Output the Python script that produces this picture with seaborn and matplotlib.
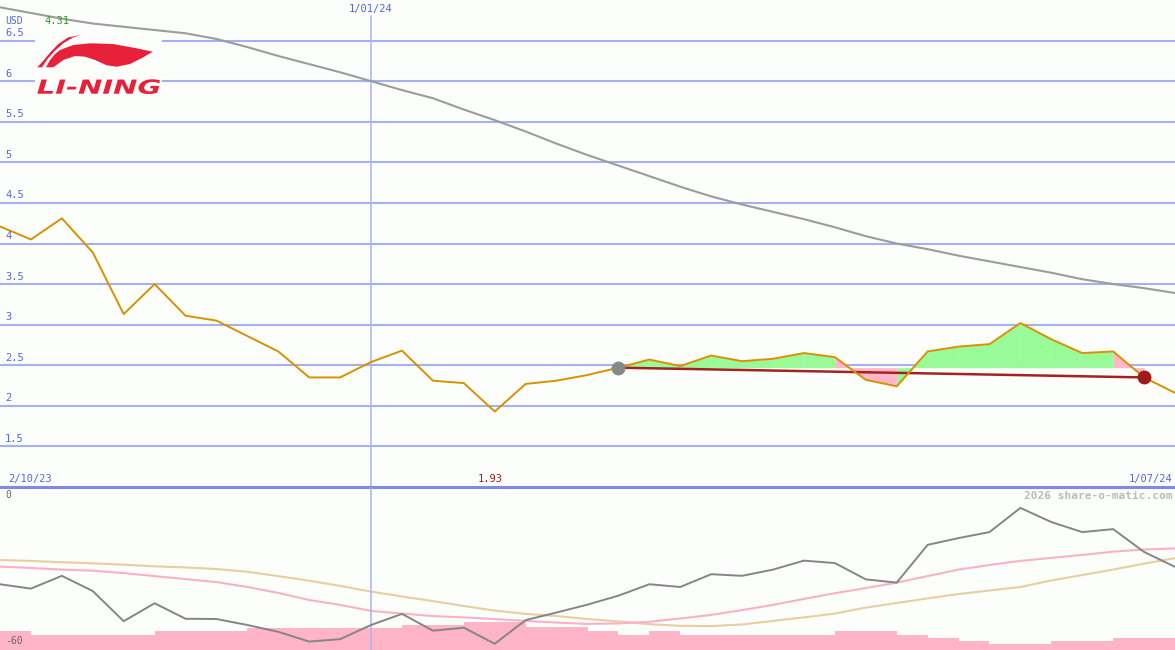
import numpy as np
import matplotlib
matplotlib.use("Agg")
import matplotlib.pyplot as plt
import matplotlib.transforms as mtransforms
from matplotlib.patches import Polygon, Rectangle, PathPatch
from matplotlib.textpath import TextPath
from matplotlib.font_manager import FontProperties
import seaborn as sns

W, H = 1175, 650

# weekly closes, 2/10/23 .. 1/07/24
price = [4.21, 4.05, 4.31, 3.89, 3.13, 3.50, 3.11, 3.05, 2.86, 2.67,
         2.35, 2.35, 2.54, 2.68, 2.31, 2.28, 1.93, 2.27, 2.31, 2.38,
         2.47, 2.57, 2.49, 2.62, 2.55, 2.58, 2.65, 2.60, 2.32, 2.24,
         2.67, 2.73, 2.76, 3.02, 2.82, 2.65, 2.67, 2.35, 2.16]
# long moving average
ma_long = [6.91, 6.84, 6.77, 6.71, 6.67, 6.63, 6.59, 6.52, 6.42, 6.31,
           6.21, 6.11, 6.00, 5.89, 5.79, 5.65, 5.52, 5.38, 5.23, 5.09,
           4.96, 4.83, 4.70, 4.58, 4.48, 4.39, 4.30, 4.20, 4.09, 4.00,
           3.93, 3.85, 3.78, 3.71, 3.64, 3.56, 3.50, 3.45, 3.39]
# lower panel
osc = [-35.8, -37.4, -32.7, -38.3, -49.4, -42.8, -48.5, -48.6, -50.8, -53.3,
       -56.9, -56.0, -50.8, -46.7, -52.9, -51.8, -57.7, -49.0, -46.2, -43.3,
       -40.0, -35.8, -36.8, -32.1, -32.7, -30.4, -27.1, -28.0, -34.0, -35.2,
       -21.3, -18.8, -16.6, -7.7, -12.9, -16.6, -15.5, -23.9, -29.4]
osc_fast = [-29.3, -29.8, -30.4, -30.8, -31.7, -32.8, -33.9, -35.0, -36.8, -39.0,
            -41.6, -43.4, -45.6, -46.6, -47.5, -48.0, -48.6, -49.3, -49.9, -50.4,
            -50.2, -49.6, -48.4, -47.1, -45.3, -43.4, -41.2, -39.1, -37.2, -35.2,
            -32.8, -30.4, -28.7, -27.2, -26.1, -25.0, -23.8, -23.0, -22.6]
osc_slow = [-26.9, -27.2, -27.7, -28.1, -28.6, -29.2, -29.6, -30.2, -31.2, -32.8,
            -34.5, -36.4, -38.5, -40.3, -42.0, -43.8, -45.5, -46.7, -47.5, -48.6,
            -49.5, -50.5, -51.1, -51.2, -50.6, -49.3, -48.0, -46.6, -44.4, -42.7,
            -41.0, -39.4, -38.1, -36.8, -34.4, -32.4, -30.4, -28.2, -26.2]
bars = [-52.9, -54.5, -54.5, -54.5, -54.5, -52.9, -52.9, -52.9, -51.8, -51.8,
        -51.8, -51.8, -51.8, -50.8, -50.8, -49.7, -49.7, -51.6, -51.6, -52.9,
        -54.5, -52.9, -54.5, -54.5, -54.5, -54.5, -54.5, -52.9, -52.9, -54.5,
        -55.6, -56.6, -57.8, -57.8, -56.6, -56.6, -55.6, -55.6]

yticks = [1.5, 2, 2.5, 3, 3.5, 4, 4.5, 5, 5.5, 6, 6.5]
ytick_labels = ["1.5", "2", "2.5", "3", "3.5", "4", "4.5", "5", "5.5", "6", "6.5"]
date_start, date_mid, date_end = "2/10/23", "1/01/24", "1/07/24"
mid_idx = 12
trend_start, trend_end = 20, 37

idx = np.arange(len(price))

sns.set_style("white")
plt.rcParams['font.family'] = ['DejaVu Sans Mono', 'DejaVu Sans']

BG = '#FCFEFC'
GRID = '#A4B0F0'
BLUE_TXT = '#5566E4'
fig = plt.figure(figsize=(W / 100, H / 100), dpi=100, facecolor=BG)

def px(x, y):
    return x / W, 1 - y / H

ax = fig.add_axes([0, 163 / H, 1, 487 / H])
ax.set_xlim(0, len(price) - 1)
ax.set_ylim(1, 7)
ax.set_axis_off()

axb = fig.add_axes([0, 0, 1, 163 / H])
axb.set_xlim(0, len(price) - 1)
axb.set_ylim(-60, 0)
axb.set_axis_off()

#grid + labels
lab_tr = mtransforms.blended_transform_factory(ax.transAxes, ax.transData)
for v, lab in zip(yticks, ytick_labels):
    ax.axhline(v, color=GRID, lw=1.5, zorder=1)
    ax.text(5 / W, v + 0.03, lab, transform=lab_tr, ha='left', va='bottom',
            fontsize=7.5, color=BLUE_TXT, zorder=5)
ax.axvline(mid_idx, ymin=0, ymax=(487 - 16) / 487, color='#A8B4F2', lw=1.1, zorder=1)
axb.axvline(mid_idx, color='#A8B4F2', lw=1.1, zorder=3)
ax.axhline(1, color='#7C8AE8', lw=2.2, zorder=6, clip_on=False)

#lines
sns.lineplot(x=idx, y=ma_long, ax=ax, color='#9C9C9C', linewidth=1.5, zorder=3)

base = price[trend_start]
for i in range(trend_start, trend_end):
    c = '#98FB98' if price[i + 1] >= base else '#FFB6C8'
    ax.fill_between([i, i + 1], [price[i], price[i + 1]], base, color=c, lw=0, zorder=2)

sns.lineplot(x=[trend_start, trend_end], y=[price[trend_start], price[trend_end]], ax=ax,
             color='#A52222', linewidth=1.8, zorder=3)
sns.lineplot(x=idx, y=price, ax=ax, color='#DA9100', linewidth=1.4, zorder=4)
ax.plot([trend_start], [price[trend_start]], 'o', ms=9, color='#888888', zorder=5)
ax.plot([trend_end], [price[trend_end]], 'o', ms=9, color='#A01C1C', zorder=5)

#hi / lo labels
imax, imin = int(np.argmax(price)), int(np.argmin(price))
off = mtransforms.offset_copy(ax.transData, fig=fig, x=-5, y=0, units='dots')
hx = mtransforms.blended_transform_factory(off, fig.transFigure)
ax.text(imax, 1 - 21 / H, f"{price[imax]:.2f}", transform=hx, ha='center', va='center',
        fontsize=7.5, color='#22A022')
ax.text(imin, 1 - 479 / H, f"{price[imin]:.2f}", transform=hx, ha='center', va='center',
        fontsize=7.5, color='#A01C1C')

fig.text(*px(5, 21), "USD", ha='left', va='center', fontsize=7, color=BLUE_TXT)
mx = mtransforms.blended_transform_factory(ax.transData, fig.transFigure)
ax.text(mid_idx, 1 - 9 / H, date_mid, transform=mx, ha='center', va='center',
        fontsize=7.5, color=BLUE_TXT)
fig.text(*px(8, 479), date_start, ha='left', va='center', fontsize=7.5, color=BLUE_TXT)
fig.text(*px(1172, 479), date_end, ha='right', va='center', fontsize=7.5, color=BLUE_TXT)

#logo
ax.add_patch(Rectangle(px(35, 97), 127 / W, 64 / H, transform=fig.transFigure,
                       facecolor=BG, edgecolor='none', zorder=2))
RED = '#E8203A'
stroke = [(37.3, 67.3), (43.3, 60.7), (50, 52.7), (58.3, 44), (68.3, 37.3), (81.7, 35),
          (73.3, 37.3), (63.3, 43.3), (55, 50.7), (47.3, 59.3), (42, 67.3)]
wing = [(46, 67.3), (50, 60), (55, 54), (60, 50), (73.3, 45), (90, 43.3), (113, 44),
        (136.7, 48.3), (152.7, 51.7), (143.3, 57.3), (130, 64), (116.7, 66.7),
        (106.7, 65.3), (95, 60), (85, 56.7), (75, 56), (63.3, 60), (53.3, 67.3)]
for shape in (stroke, wing):
    ax.add_patch(Polygon([px(x, y) for x, y in shape], closed=True, transform=fig.transFigure,
                         facecolor=RED, edgecolor='none', zorder=3))
tp = TextPath((0, 0), "LI-NING", size=20,
              prop=FontProperties(family='DejaVu Sans', weight='bold', style='italic'))
bb = tp.get_extents()
tx0, tx1, ty0, ty1 = 37.3, 160, 79.3, 94
tr = (mtransforms.Affine2D().translate(-bb.x0, -bb.y0)
      .scale((tx1 - tx0) / bb.width, (ty1 - ty0) / bb.height)
      .translate(tx0, H - ty1))
fig.add_artist(PathPatch(tp, transform=tr, facecolor=RED, edgecolor='none', zorder=4))

#lower panel
axb.bar(idx[:-1], [b + 60 for b in bars], bottom=-60, width=1, align='edge',
        color='#FFB4C8', linewidth=0, zorder=1)
sns.lineplot(x=idx, y=osc_slow, ax=axb, color='#E6CFA0', linewidth=1.5, zorder=2)
sns.lineplot(x=idx, y=osc_fast, ax=axb, color='#FBB0C8', linewidth=1.5, zorder=2)
sns.lineplot(x=idx, y=osc, ax=axb, color='#858585', linewidth=1.4, zorder=3)
fig.text(*px(5, 495), "0", ha='left', va='center', fontsize=7, color='#666666')
fig.text(*px(5, 641), "-60", ha='left', va='center', fontsize=7, color='#666666')
fig.text(*px(1172, 496), "2026 share-o-matic.com", ha='right', va='center', fontsize=8,
         color='#BBBBBB', fontweight='bold')

fig.savefig("out.png", dpi=100, facecolor=BG)
